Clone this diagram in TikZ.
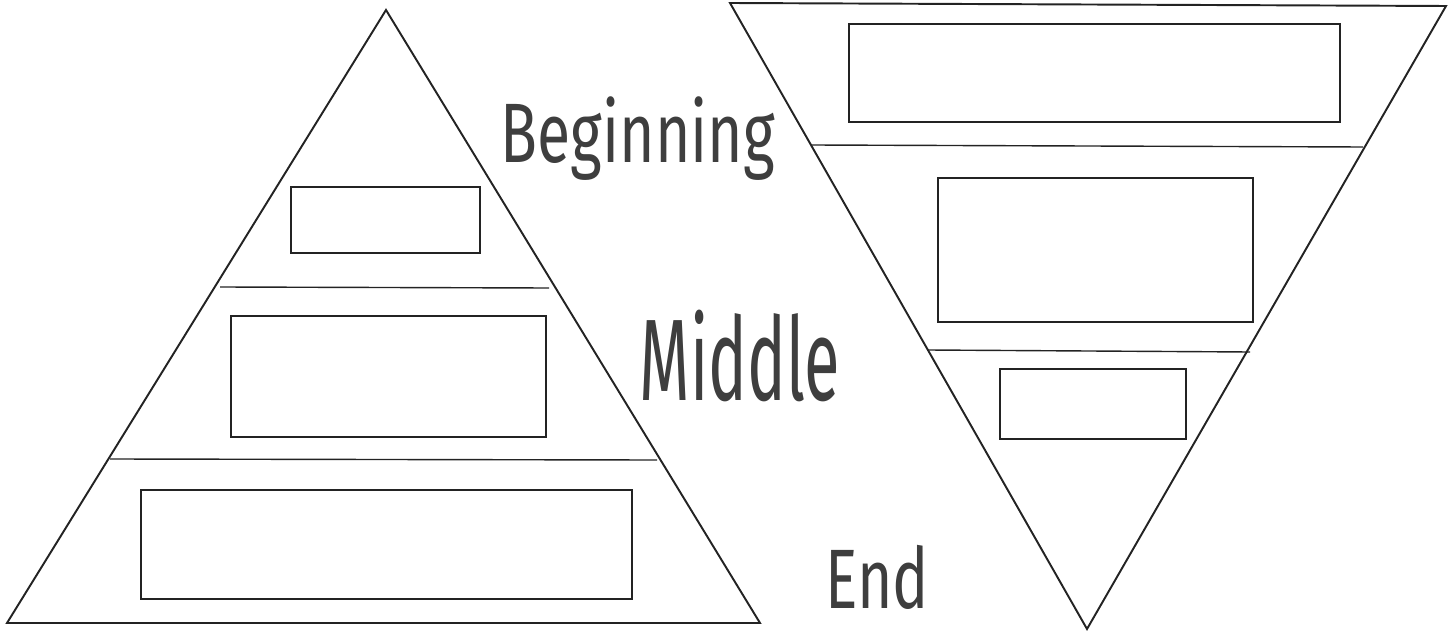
\documentclass[tikz,border=0pt]{standalone}
\usepackage{fontspec}
\setmainfont{Fira Sans}
\usepackage{graphicx}
\definecolor{bmeink}{RGB}{62,62,62}
\definecolor{bmeline}{RGB}{35,35,35}

\tikzset{
  outline/.style={line width=1.1pt, bmeline},
  divider/.style={line width=0.8pt, bmeline},
  answerbox/.style={line width=0.7pt, bmeline},
  stagelabel/.style={text=bmeink, inner sep=0pt, anchor=base},
}

\begin{document}
\begin{tikzpicture}[x=0.02cm, y=-0.02cm]
\useasboundingbox (0,0) rectangle (1452,631);

% === Piramide (Beginning -> End) ===
\draw[outline] (386,10) -- (760,623) -- (7,623) -- cycle;
\draw[divider] (220,287) -- (549,288);
\draw[divider] (110,459) -- (657,460);

\draw[answerbox] (291,187) rectangle (480,253);
\draw[answerbox] (231,316) rectangle (546,437);
\draw[answerbox] (141,490) rectangle (632,599);

% === Embudo (invertido) ===
\draw[outline] (730,3) -- (1446,6) -- (1087,629) -- cycle;
\draw[divider] (811,145) -- (1363,147);
\draw[divider] (928,350) -- (1250,352);

\draw[answerbox] (849,24) rectangle (1340,122);
\draw[answerbox] (938,178) rectangle (1253,322);
\draw[answerbox] (1000,369) rectangle (1186,439);

% === Etiquetas ===
\node[stagelabel] (beginning) at (638,163)
  {\scalebox{0.72}[1]{\fontsize{48}{48}\selectfont Beginning}};
\node[stagelabel] (middle) at (740,400)
  {\scalebox{0.56}[1]{\fontsize{66}{66}\selectfont Middle}};
\node[stagelabel] (end) at (877,608)
  {\scalebox{0.72}[1]{\fontsize{48}{48}\selectfont End}};

\end{tikzpicture}
\end{document}
